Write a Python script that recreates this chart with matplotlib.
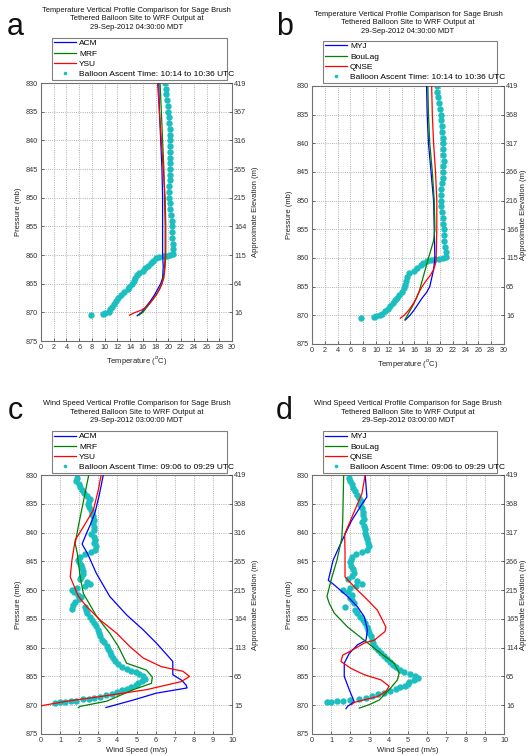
import matplotlib
matplotlib.use('Agg')
import matplotlib.pyplot as plt
from matplotlib.lines import Line2D

plt.rcParams['font.family'] = ['Liberation Sans', 'DejaVu Sans']

# ---------------- DATA ----------------
p_ticks = [830, 835, 840, 845, 850, 855, 860, 865, 870, 875]
elev_ticks = [830, 835, 840, 845, 850, 855, 860, 865, 870]
elev_a = ['419', '367', '316', '265', '215', '164', '115', '64', '16']
elev_b = ['419', '368', '317', '266', '216', '166', '115', '65', '16']
elev_c = ['419', '368', '316', '265', '215', '164', '113', '65', '15']
elev_d = ['419', '368', '317', '266', '215', '165', '114', '65', '16']
temp_ticks = list(range(0, 31, 2))
wind_ticks = list(range(0, 11, 1))

labels_ab_left = ['ACM', 'MRF', 'YSU']
labels_ab_right = ['MYJ', 'BouLag', 'QNSE']
balloon_temp_label = 'Balloon Ascent Time: 10:14 to 10:36 UTC'
balloon_wind_label = 'Balloon Ascent Time: 09:06 to 09:29 UTC'

# Panel a: temperature, ACM / MRF / YSU
p_a_acm = [830, 835, 840, 845, 850, 855, 860, 862, 864, 865, 866, 867, 868, 869, 870, 870.6]
t_a_acm = [18.5, 18.6, 18.8, 19.0, 19.1, 19.1, 19.1, 19.2, 19.1, 18.8, 18.3, 17.8, 17.2, 16.5, 15.8, 15.1]
p_a_mrf = [830, 835, 840, 845, 850, 855, 860, 862, 864, 865, 866, 867, 868, 869, 870, 870.5]
t_a_mrf = [18.7, 18.9, 19.1, 19.3, 19.4, 19.5, 19.5, 19.4, 19.2, 19.0, 18.6, 18.0, 17.4, 16.7, 16.0, 15.4]
p_a_ysu = [830, 835, 840, 845, 850, 855, 860, 862, 864, 865, 866, 867, 868, 869, 869.6, 870.1, 870.5]
t_a_ysu = [18.3, 18.6, 18.9, 19.2, 19.5, 19.6, 19.6, 19.5, 19.3, 19.0, 18.6, 18.1, 17.4, 16.6, 15.8, 14.6, 13.9]
p_a_bal = [830, 831, 832, 833, 834, 835, 836, 837, 838, 839,
           840, 841, 842, 843, 844, 845, 846, 847, 848, 849,
           850, 851, 852, 853, 854, 855, 856, 857, 858, 859,
           859.8, 860.0, 860.1, 860.2, 860.4, 860.6, 861.0, 861.4, 861.9, 862.3,
           862.8, 863.1, 863.5, 864.0, 864.5, 865.0, 865.5, 866.0, 866.5, 867.0,
           867.5, 868.0, 868.5, 869.0, 869.5, 869.9, 870.1, 870.3, 870.4]
t_a_bal = [19.5, 19.6, 19.7, 19.8, 19.9, 20.0, 20.1, 20.1, 20.2, 20.2,
           20.2, 20.3, 20.3, 20.2, 20.3, 20.3, 20.2, 20.2, 20.1, 20.1,
           20.1, 20.2, 20.3, 20.4, 20.5, 20.5, 20.6, 20.6, 20.7, 20.7,
           20.8, 20.3, 19.8, 19.3, 18.6, 18.0, 17.6, 17.2, 16.8, 16.3,
           16.0, 15.4, 15.0, 14.8, 14.6, 14.3, 13.9, 13.6, 13.1, 12.6,
           12.1, 11.8, 11.4, 11.1, 10.9, 10.7, 10.0, 9.8, 7.8]

# Panel b: temperature, MYJ / BouLag / QNSE
p_b_myj = [830, 835, 840, 845, 850, 855, 860, 862, 863.5, 865, 866, 867, 868, 869, 870, 870.8]
t_b_myj = [17.9, 18.0, 18.2, 18.6, 19.0, 19.1, 19.2, 19.0, 18.7, 18.4, 17.9, 17.2, 16.6, 16.0, 15.3, 14.6]
p_b_bou = [830, 835, 840, 845, 850, 855, 857, 860, 862, 864, 866, 868, 869, 870, 870.8]
t_b_bou = [18.1, 18.2, 18.4, 18.8, 19.1, 19.2, 19.0, 18.2, 17.7, 17.2, 16.7, 15.9, 15.4, 14.9, 14.5]
p_b_qnse = [830, 835, 840, 845, 850, 855, 860, 861, 862, 863, 864, 865, 866, 867, 868, 869, 870, 870.5]
t_b_qnse = [18.7, 18.8, 19.0, 19.3, 19.5, 19.5, 19.4, 19.3, 19.0, 18.5, 17.8, 17.2, 16.7, 16.3, 15.8, 15.2, 14.4, 13.8]
p_b_bal = [830, 831, 832, 833, 834, 835, 836, 837, 838, 839,
           840, 841, 842, 843, 844, 845, 846, 847, 848, 849,
           850, 851, 852, 853, 854, 855, 856, 857, 858, 859,
           859.8, 860.0, 860.1, 860.2, 860.3, 860.5, 860.8, 861.3, 861.8, 862.3,
           862.7, 863.3, 864.0, 864.7, 865.3, 865.9, 866.4, 866.9, 867.4, 867.9,
           868.4, 868.9, 869.3, 869.7, 870.0, 870.2, 870.3, 870.5]
t_b_bal = [19.5, 19.6, 19.7, 19.8, 20.0, 20.1, 20.2, 20.3, 20.3, 20.4,
           20.4, 20.5, 20.5, 20.6, 20.5, 20.5, 20.4, 20.3, 20.1, 20.1,
           20.1, 20.2, 20.3, 20.4, 20.5, 20.6, 20.7, 20.7, 20.8, 20.9,
           20.9, 20.4, 19.8, 19.2, 18.6, 18.0, 17.4, 17.0, 16.4, 15.9,
           15.2, 14.9, 14.7, 14.5, 14.3, 14.0, 13.6, 13.3, 12.9, 12.6,
           12.2, 11.8, 11.4, 11.0, 10.6, 10.0, 9.7, 7.7]

# Panel c: wind speed, ACM / MRF / YSU
p_c_acm = [830, 833.5, 836.5, 838.5, 840.0, 842.0, 843.6, 847.1, 851.1, 854.3, 856.9, 859.2,
           861.8, 862.4, 864.7, 865.6, 866.5, 867.0, 867.9, 869.1, 870.4]
w_c_acm = [3.26, 3.05, 2.83, 2.6, 2.4, 2.15, 2.43, 2.9, 3.6, 4.48, 5.35, 6.04,
           6.74, 6.9, 6.9, 7.34, 7.6, 7.65, 6.04, 4.83, 3.4]
p_c_mrf = [830, 839, 841.9, 843.6, 847.7, 850.6, 854.6, 857.5, 859.8, 862.7, 863.9, 865.1,
           866.2, 867.3, 869.3, 870.2, 870.4]
w_c_mrf = [2.5, 1.95, 1.79, 1.9, 2.05, 2.22, 2.92, 3.6, 4.05, 4.48, 5.52, 5.83,
           5.78, 4.83, 3.44, 2.05, 1.96]
p_c_ysu = [830, 832.6, 836.1, 839, 841.3, 844.8, 847.7, 851.1, 852.9, 855.2, 857.5, 859.8,
           861.8, 863.3, 864.1, 865.0, 865.9, 867.3, 868.5, 869.3, 870.1]
w_c_ysu = [3.15, 3.0, 2.74, 2.22, 1.79, 1.62, 1.53, 1.96, 2.4, 3.1, 3.96, 4.65,
           5.35, 6.3, 7.43, 7.78, 7.34, 5.52, 3.1, 1.35, 0.0]
p_c_bal = [830.5, 831.0, 831.5, 832.0, 832.6, 833.2, 833.7, 834.1, 834.6, 835.1,
           835.6, 836.1, 836.7, 837.2, 837.8, 838.4, 839.0, 839.6, 840.2, 840.8,
           841.3, 841.9, 842.4, 843.0, 843.4, 843.8, 844.2, 844.7, 845.2, 845.7,
           846.2, 846.7, 847.2, 847.7, 848.1, 848.6, 848.9, 849.3, 849.7, 850.0,
           850.4, 850.8, 851.2, 851.6, 852.1, 852.6, 852.9, 853.2, 853.4, 854.0,
           854.6, 855.2, 855.8, 856.3, 856.9, 857.5, 858.0, 858.6, 859.1, 859.7,
           860.2, 860.8, 861.3, 861.8, 862.4, 862.9, 863.3, 863.7, 864.0, 864.3,
           864.6, 865.0, 865.4, 865.8, 866.2, 866.5, 866.8, 867.1, 867.4, 867.7,
           868.0, 868.3, 868.5, 868.7, 868.9, 869.0, 869.2, 869.3, 869.4, 869.5, 869.6]
w_c_bal = [1.9, 1.85, 2.0, 2.05, 2.15, 2.25, 2.4, 2.55, 2.5, 2.45,
           2.5, 2.6, 2.65, 2.7, 2.75, 2.7, 2.8, 2.75, 2.6, 2.75,
           2.85, 2.8, 2.9, 2.85, 2.6, 2.3, 2.05, 1.95, 2.0, 2.1,
           2.15, 2.2, 2.2, 2.1, 2.05, 2.4, 2.55, 2.3, 1.9, 1.6,
           1.75, 1.95, 2.1, 2.0, 1.8, 1.7, 2.3, 1.6, 2.35, 2.4,
           2.55, 2.65, 2.8, 2.9, 3.0, 3.05, 3.1, 3.2, 3.3, 3.45,
           3.5, 3.6, 3.65, 3.75, 3.9, 4.05, 4.25, 4.5, 4.7, 4.95,
           5.15, 5.35, 5.45, 5.3, 5.1, 4.95, 4.7, 4.5, 4.25, 4.0,
           3.7, 3.4, 3.1, 2.8, 2.5, 2.2, 1.85, 1.55, 1.25, 1.0, 0.75]

# Panel d: wind speed, MYJ / BouLag / QNSE
p_d_myj = [830, 833.8, 835.5, 838.0, 841.5, 844.8, 848.3, 849.1, 851.1, 852.9, 854.6, 856.9,
           858.7, 859.5, 861.0, 862.7, 865.0, 867.3, 869.4, 870.2, 870.6]
w_d_myj = [2.77, 2.86, 2.52, 2.05, 1.55, 1.1, 0.85, 1.16, 1.85, 2.37, 2.72, 2.89,
           2.81, 2.37, 1.94, 1.68, 1.68, 1.94, 2.2, 1.85, 1.77]
p_d_bou = [830, 837.9, 841.0, 844.8, 848.3, 851.1, 852.3, 854.0, 856.4, 858.7, 861.0, 862.7,
           864.4, 865.6, 867.0, 869.1, 869.9, 870.5]
w_d_bou = [1.65, 1.6, 1.55, 1.3, 0.99, 0.78, 0.9, 1.16, 1.85, 2.72, 3.59, 4.28,
           4.54, 4.45, 4.1, 3.5, 2.98, 2.46]
p_d_qnse = [830, 833.2, 836.6, 840.3, 843.6, 847.7, 848.5, 850.0, 851.7, 853.5, 856.4, 857.2,
            858.7, 859.2, 860.4, 861.3, 862.4, 863.6, 864.7, 865.6, 866.7, 867.6, 868.5, 869.5, 869.9]
w_d_qnse = [2.77, 2.6, 2.17, 1.7, 1.72, 1.72, 1.94, 2.37, 2.89, 3.41, 3.85, 3.8,
            3.24, 2.72, 2.11, 1.6, 1.51, 2.03, 2.72, 3.59, 4.02, 3.85, 3.41, 2.2, 2.06]
p_d_bal = [830.5, 831.0, 831.6, 832.2, 832.8, 833.4, 834.0, 834.6, 835.2, 835.8,
           836.4, 837.0, 837.6, 838.2, 838.8, 839.4, 840.0, 840.6, 841.2, 841.8,
           842.4, 843.0, 843.4, 843.8, 844.2, 844.7, 845.2, 845.8, 846.4, 847.0,
           847.5, 848.0, 848.5, 848.9, 849.3, 849.7, 850.0, 850.4, 850.8, 851.3,
           851.8, 852.3, 852.9, 853.4, 854.0, 854.6, 855.2, 855.8, 856.4, 856.9,
           857.5, 858.0, 858.6, 859.2, 859.8, 860.4, 861.0, 861.5, 862.0, 862.5,
           863.0, 863.4, 863.8, 864.2, 864.6, 864.9, 865.3, 865.7, 866.0, 866.3,
           866.6, 866.9, 867.2, 867.5, 867.8, 868.1, 868.4, 868.7, 868.9, 869.1,
           869.2, 869.3, 869.4, 869.45]
w_d_bal = [1.95, 2.0, 2.1, 2.15, 2.25, 2.35, 2.45, 2.55, 2.5, 2.6,
           2.65, 2.65, 2.7, 2.6, 2.7, 2.75, 2.75, 2.8, 2.85, 2.9,
           2.95, 2.85, 2.6, 2.3, 2.1, 2.05, 2.0, 2.05, 2.15, 2.2,
           2.1, 1.9, 2.35, 2.6, 2.3, 2.0, 1.6, 1.9, 2.1, 2.0,
           2.1, 2.2, 1.7, 2.25, 2.35, 2.5, 2.65, 2.75, 2.85, 2.9,
           2.95, 3.05, 3.1, 3.2, 3.3, 3.45, 3.6, 3.75, 3.9, 4.05,
           4.2, 4.4, 4.6, 4.8, 5.1, 5.35, 5.5, 5.3, 5.05, 5.0,
           4.85, 4.6, 4.35, 4.05, 3.75, 3.45, 3.15, 2.8, 2.45, 2.0,
           1.6, 1.3, 1.0, 0.8]

titles_temp = ('Temperature Vertical Profile Comparison for Sage Brush\n'
               'Tethered Balloon Site to WRF Output at\n29-Sep-2012 04:30:00 MDT')
titles_wind = ('Wind Speed Vertical Profile Comparison for Sage Brush\n'
               'Tethered Balloon Site to WRF Output at\n29-Sep-2012 03:00:00 MDT')

# ---------------- STYLE / LAYOUT ----------------
W, H = 528, 756
fig = plt.figure(figsize=(W / 100, H / 100), dpi=100)
COLORS = ['#0000FF', '#008000', '#FF0000']
CYAN = '#1CBFBF'
FS = 5.2


def fx(x):
    return x / W


def fy(y):
    return 1 - y / H


def panel(box, xlim, xticks, xlabel, elev, models, labels, bal, bal_label,
          title, title_y, leg_box, letter, letter_xy, rpad):
    l, t, r, b = box
    ax = fig.add_axes([fx(l), fy(b), (r - l) / W, (b - t) / H])
    handles = []
    ax.plot(bal[1], bal[0], linestyle='none', marker='o', ms=4.6, mew=0,
            color=CYAN, zorder=2)
    for (pp, vv), c in zip(models, COLORS):
        h, = ax.plot(vv, pp, color=c, lw=0.9, zorder=3)
        handles.append(h)
    handles.append(Line2D([], [], linestyle='none', marker='o', ms=2.6, mew=0, color=CYAN))
    ax.set_xlim(*xlim)
    ax.set_ylim(875, 830)
    ax.set_xticks(xticks)
    ax.set_yticks(p_ticks)
    ax.grid(True, color='#9a9a9a', linestyle=(0, (1, 1.6)), lw=0.6)
    ax.tick_params(direction='in', length=2, width=0.5, labelsize=FS, pad=2,
                   colors='#333333')
    for s in ax.spines.values():
        s.set_color('#707070')
        s.set_linewidth(0.8)
    ax.set_xlabel(xlabel, fontsize=FS + 0.3, labelpad=2, color='#222222')
    ax.set_ylabel('Pressure (mb)', fontsize=FS + 0.3, labelpad=3, color='#222222')
    ax2 = ax.twinx()
    ax2.set_ylim(875, 830)
    ax2.set_yticks(elev_ticks)
    ax2.set_yticklabels(elev)
    ax2.tick_params(direction='in', length=2, width=0.5, labelsize=FS, pad=1.5,
                    colors='#333333')
    for s in ax2.spines.values():
        s.set_visible(False)
    ax2.set_ylabel('Approximate Elevation (m)', fontsize=FS + 0.3, labelpad=rpad,
                   color='#222222')
    # title
    fig.text(fx((l + r) / 2), fy(title_y), title, ha='center', va='center',
             fontsize=FS + 0.2, linespacing=1.22, color='#111111')
    # legend
    ll, lt, lr, lb = leg_box
    leg = fig.legend(handles, labels + [bal_label], loc='lower left',
                     bbox_to_anchor=(fx(ll), fy(lb), (lr - ll) / W, (lb - lt) / H),
                     bbox_transform=fig.transFigure, mode='expand',
                     fontsize=FS + 0.8, frameon=True, fancybox=False,
                     borderaxespad=0, handlelength=2.6, handletextpad=0.4,
                     labelspacing=0.28, borderpad=0.25, numpoints=1)
    leg.get_frame().set_edgecolor('#606060')
    leg.get_frame().set_linewidth(0.8)
    # panel letter
    fig.text(fx(letter_xy[0]), fy(letter_xy[1]), letter, fontsize=22,
             ha='left', va='baseline', color='#111111')
    return ax


panel((41, 83, 232, 341), (0, 30), temp_ticks, 'Temperature ($^o$C)', elev_a,
      [(p_a_acm, t_a_acm), (p_a_mrf, t_a_mrf), (p_a_ysu, t_a_ysu)],
      labels_ab_left, (p_a_bal, t_a_bal), balloon_temp_label,
      titles_temp, 19, (52, 38, 227, 80), 'a', (7, 35), 4)

panel((312, 86, 504, 344), (0, 30), temp_ticks, 'Temperature ($^o$C)', elev_b,
      [(p_b_myj, t_b_myj), (p_b_bou, t_b_bou), (p_b_qnse, t_b_qnse)],
      labels_ab_right, (p_b_bal, t_b_bal), balloon_temp_label,
      titles_temp, 23, (323, 41, 497, 83), 'b', (276, 35), 1)

panel((41, 475, 232, 734), (0, 10), wind_ticks, 'Wind Speed (m/s)', elev_c,
      [(p_c_acm, w_c_acm), (p_c_mrf, w_c_mrf), (p_c_ysu, w_c_ysu)],
      labels_ab_left, (p_c_bal, w_c_bal), balloon_wind_label,
      titles_wind, 412, (52, 430, 227, 473), 'c', (8, 419), 4)

panel((312, 475, 504, 734), (0, 10), wind_ticks, 'Wind Speed (m/s)', elev_d,
      [(p_d_myj, w_d_myj), (p_d_bou, w_d_bou), (p_d_qnse, w_d_qnse)],
      labels_ab_right, (p_d_bal, w_d_bal), balloon_wind_label,
      titles_wind, 412, (323, 430, 497, 473), 'd', (276, 419), 1)

fig.savefig('out.png', dpi=100, facecolor='white')
